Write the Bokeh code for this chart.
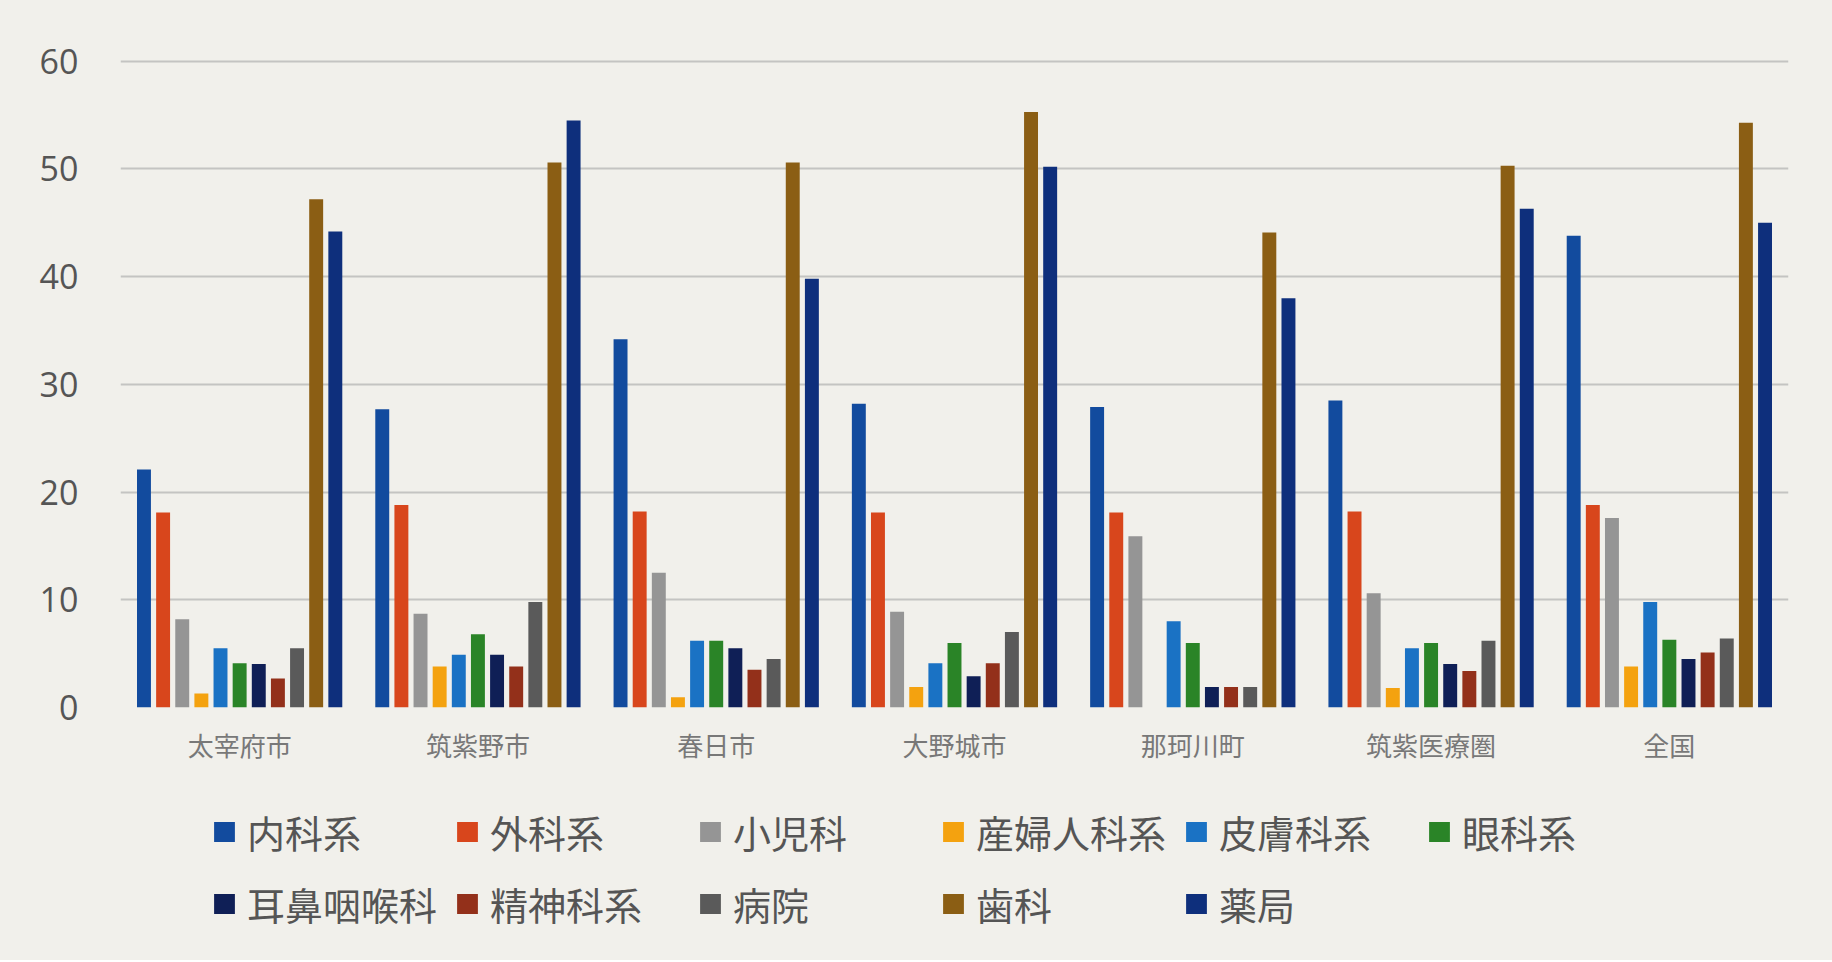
from bokeh.plotting import figure
from bokeh.layouts import column
from bokeh.models import Range1d, FactorRange, Legend, LegendItem, ColumnDataSource
from bokeh.transform import dodge
from bokeh.embed import file_html
from bokeh.resources import INLINE

areas = ["太宰府市", "筑紫野市", "春日市", "大野城市", "那珂川町", "筑紫医療圏", "全国"]

series_names = ["内科系", "外科系", "小児科", "産婦人科系", "皮膚科系", "眼科系",
                "耳鼻咽喉科", "精神科系", "病院", "歯科", "薬局"]

naika      = [22.1, 27.7, 34.2, 28.2, 27.9, 28.5, 43.8]
geka       = [18.1, 18.8, 18.2, 18.1, 18.1, 18.2, 18.8]
shonika    = [8.2, 8.7, 12.5, 8.9, 15.9, 10.6, 17.6]
sanfujinka = [1.3, 3.8, 0.95, 1.9, 0.0, 1.8, 3.8]
hifuka     = [5.5, 4.9, 6.2, 4.1, 8.0, 5.5, 9.8]
ganka      = [4.1, 6.8, 6.2, 6.0, 6.0, 6.0, 6.3]
jibika     = [4.05, 4.9, 5.5, 2.9, 1.9, 4.05, 4.5]
seishinka  = [2.7, 3.8, 3.5, 4.1, 1.9, 3.4, 5.1]
byoin      = [5.5, 9.8, 4.5, 7.0, 1.9, 6.2, 6.4]
shika      = [47.2, 50.6, 50.6, 55.3, 44.1, 50.3, 54.3]
yakkyoku   = [44.2, 54.5, 39.8, 50.2, 38.0, 46.3, 45.0]

y_ticks = [0, 10, 20, 30, 40, 50, 60]

series_values = [naika, geka, shonika, sanfujinka, hifuka, ganka,
                 jibika, seishinka, byoin, shika, yakkyoku]
colors = ["#124b9e", "#d8461c", "#959595", "#f4a20f", "#1a72c4", "#2a8427",
          "#0f1f56", "#93301a", "#5a5a5a", "#8b5e14", "#0e2f7c"]

paper = "#f1f0eb"
jp_font = "Noto Sans CJK JP"

data = {"area": areas}
keys = []
for i, vals in enumerate(series_values):
    k = f"s{i}"
    keys.append(k)
    data[k] = vals
source = ColumnDataSource(data)

# ---- main chart ----
p = figure(x_range=FactorRange(*areas), y_range=Range1d(0, 61),
           frame_width=1668, frame_height=657,
           min_border_left=120, min_border_right=44,
           min_border_top=50, min_border_bottom=68,
           output_backend="svg", toolbar_location=None, tools="")

p.background_fill_color = paper
p.border_fill_color = paper
p.outline_line_color = None

step = 0.0803
bar_w = 0.0585
for i, k in enumerate(keys):
    p.vbar(x=dodge("area", (i - 5) * step, range=p.x_range), top=k, width=bar_w,
           source=source, fill_color=colors[i], line_color=None)

p.yaxis.ticker = y_ticks
p.ygrid.grid_line_color = "#c4c4c2"
p.ygrid.grid_line_width = 2
p.xgrid.grid_line_color = None

for ax in (p.xaxis[0], p.yaxis[0]):
    ax.axis_line_color = None
    ax.major_tick_line_color = None
    ax.minor_tick_line_color = None

p.yaxis.major_label_text_font = "Open Sans"
p.yaxis.major_label_text_font_size = "34px"
p.yaxis.major_label_text_color = "#555555"
p.yaxis.major_label_standoff = 36

p.xaxis.major_label_text_font = jp_font
p.xaxis.major_label_text_font_size = "26px"
p.xaxis.major_label_text_color = "#787878"
p.xaxis.major_label_standoff = 12

# ---- legend strip ----
lg = figure(width=1832, height=185, x_range=Range1d(0, 1), y_range=Range1d(0, 1),
            x_axis_location=None, y_axis_location=None,
            min_border=0, output_backend="svg", toolbar_location=None, tools="")
lg.background_fill_color = paper
lg.border_fill_color = paper
lg.outline_line_color = None
lg.grid.visible = False

nan = float("nan")
items = []
for i, name in enumerate(series_names):
    proxy = lg.vbar(x=[nan], top=[nan], width=0.1, fill_color=colors[i], line_color=None)
    items.append(LegendItem(label=name, renderers=[proxy]))

legend = Legend(items=items, ncols=6, orientation="horizontal",
                location=(91, 26))
legend.glyph_width = 26
legend.glyph_height = 25
legend.label_standoff = 10
legend.label_width = 197
legend.label_height = 62
legend.spacing = 10
legend.padding = 10
legend.margin = 0
legend.label_text_font = jp_font
legend.label_text_font_size = "38px"
legend.label_text_color = "#555555"
legend.background_fill_alpha = 0
legend.border_line_color = None
lg.add_layout(legend, "center")

layout = column(p, lg, spacing=0)
layout.styles = {"background-color": paper}

open("out.html", "w").write(file_html(layout, INLINE))
